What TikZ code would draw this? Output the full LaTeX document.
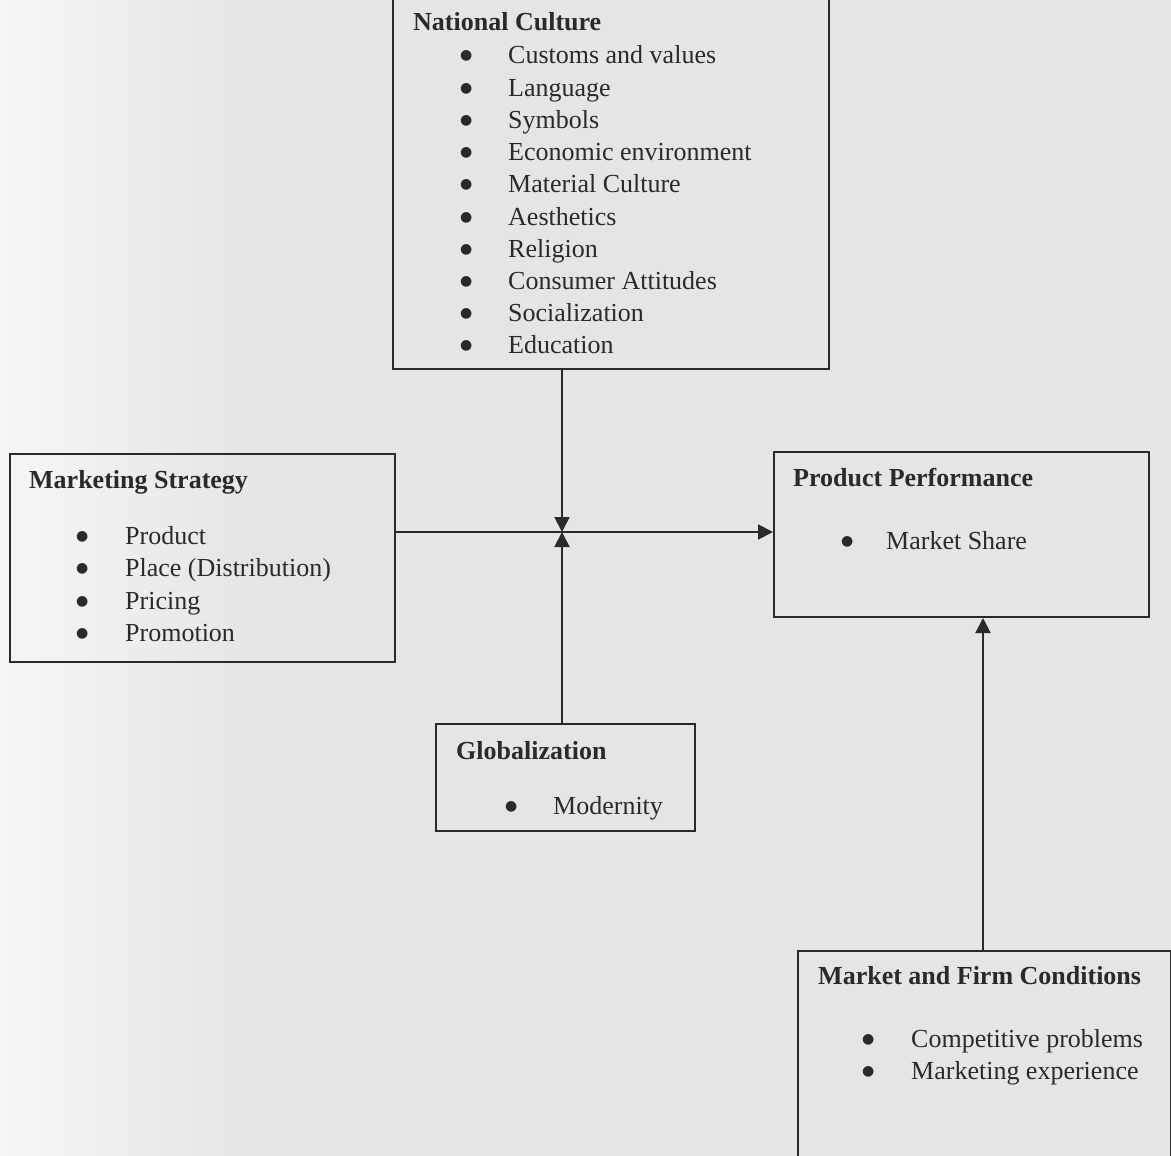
\documentclass[tikz,border=0pt]{standalone}
\usepackage{fontspec}
\setmainfont{Liberation Serif}
\newfontfamily\dvsans{DejaVu Sans}
\usetikzlibrary{arrows.meta}
\definecolor{bg}{RGB}{229,229,229}
\definecolor{bgl}{RGB}{246,246,246}
\definecolor{ink}{RGB}{42,42,42}
\newcommand\bl[1]{\makebox[#1][l]{{\fontsize{14}{14}\dvsans\raisebox{4pt}{●}}}}
\begin{document}
\begin{tikzpicture}[x=1pt,y=-1pt,
  box/.style={draw=ink, line width=2pt, inner sep=0pt, anchor=north west},
  ttl/.style={anchor=base west, inner sep=0pt, font=\fontsize{26}{32}\selectfont\bfseries, text=ink},
  itm/.style={anchor=base west, inner sep=0pt, font=\fontsize{26}{32}\selectfont, text=ink},
  arr/.style={draw=ink, line width=2pt, -{Triangle[length=15pt,width=15pt]}}]
\useasboundingbox (0,0) rectangle (1171,1156);
\clip (0,0) rectangle (1171,1156);
\fill[bg] (0,0) rectangle (1171,1156);
\shade[left color=bgl, right color=bg] (0,0) rectangle (260,1156);

% boxes
\node[box, minimum width=436pt, minimum height=370pt] (nc) at (392,-2) {};
\node[box, minimum width=385pt, minimum height=208pt] (ms) at (9,453) {};
\node[box, minimum width=375pt, minimum height=165pt] (pp) at (773,451) {};
\node[box, minimum width=259pt, minimum height=107pt] (gl) at (435,723) {};
\node[box, minimum width=373pt, minimum height=225pt] (mf) at (797,950) {};

% National Culture
\node[ttl] (nct) at (413,31) {National Culture};
\foreach \t [count=\i from 0] in {Customs and values, Language, Symbols, Economic environment, Material Culture, Aesthetics, Religion, Consumer Attitudes, Socialization, Education} {
  \node[itm] (nci\i) at (460,64+32.2*\i) {\bl{48pt}\t};
}

% Marketing Strategy
\node[ttl] (mst) at (29,488) {Marketing Strategy};
\foreach \t [count=\i from 0] in {Product, {Place (Distribution)}, Pricing, Promotion} {
  \node[itm] (msi\i) at (76,544+32.5*\i) {\bl{49pt}\t};
}

% Product Performance
\node[ttl] (ppt) at (793,486) {Product Performance};
\node[itm] (ppi0) at (841,549) {\bl{45pt}Market Share};

% Globalization
\node[ttl] (glt) at (456,759) {Globalization};
\node[itm] (gli0) at (505,814) {\bl{48pt}Modernity};

% Market and Firm Conditions
\node[ttl] (mft) at (818,984) {Market and Firm Conditions};
\foreach \t [count=\i from 0] in {Competitive problems, Marketing experience} {
  \node[itm] (mfi\i) at (862,1047+32.5*\i) {\bl{49pt}\t};
}

% connectors
\coordinate (J) at (562,532);
\coordinate (K) at (983,700);
\draw[arr] (nc.south -| J) -- (J);
\draw[arr] (gl.north -| J) -- (J);
\draw[arr] (J -| ms.east) -- (J -| pp.west);
\draw[arr] (mf.north -| K) -- (pp.south -| K);
\end{tikzpicture}
\end{document}
